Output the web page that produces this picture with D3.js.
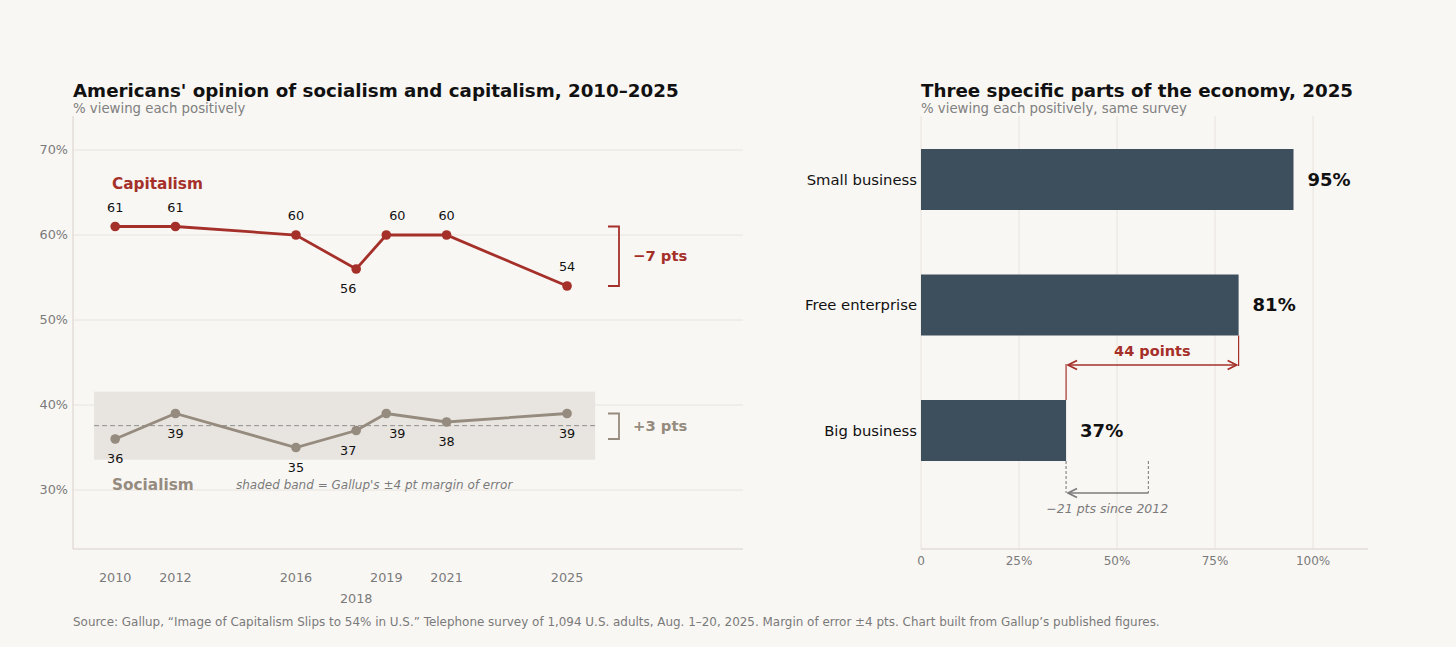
<!DOCTYPE html>
<html><head><meta charset="utf-8">
<script src="https://cdn.jsdelivr.net/npm/d3@7"></script>
<style>
html,body{margin:0;padding:0;background:#f9f7f4;}
svg{display:block;font-family:"DejaVu Sans",sans-serif;}
</style></head><body>
<svg id="c" width="1456" height="647"></svg>
<script>
// ---- data ----
const years = [2010, 2012, 2016, 2018, 2019, 2021, 2025];
const capitalism = [61, 61, 60, 56, 60, 60, 54];
const socialism = [36, 39, 35, 37, 39, 38, 39];
const yTicks = [30, 40, 50, 60, 70];
const parts = ["Small business", "Free enterprise", "Big business"];
const partValues = [95, 81, 37];
const bigBusiness2012 = 58;
const xTicksBar = [0, 25, 50, 75, 100];
const marginOfError = 4;

const RED = "#a5302a", GRAY = "#958b7e", BAR = "#3d4e5d", GRID = "#e8e3de", AXIS = "#d8d0c8", TICK = "#7a7a7a";
const svg = d3.select("#c");

// defs for arrows
const defs = svg.append("defs");
function marker(id, color, orient) {
  defs.append("marker").attr("id", id).attr("viewBox", "0 0 10 10").attr("refX", 9).attr("refY", 5)
    .attr("markerWidth", 7).attr("markerHeight", 7).attr("orient", orient)
    .append("path").attr("d", "M1,1 L9,5 L1,9").attr("fill", "none").attr("stroke", color).attr("stroke-width", 1.6);
}
marker("arR", RED, "auto");
marker("arRs", RED, "auto-start-reverse");
marker("arG", "#7d7d7d", "auto");

// ---- left chart ----
const L = {x0: 73, x1: 743, y0: 116, y1: 549};
const x = d3.scaleLinear().domain([2008.6, 2030.84]).range([L.x0, L.x1]);
const y = d3.scaleLinear().domain([23.06, 74]).range([L.y1, L.y0]);

const gl = svg.append("g");
gl.selectAll("line.grid").data(yTicks).join("line")
  .attr("x1", L.x0).attr("x2", L.x1).attr("y1", d => y(d)).attr("y2", d => y(d))
  .attr("stroke", GRID).attr("stroke-width", 1);
gl.selectAll("text.yt").data(yTicks).join("text")
  .attr("x", 68).attr("y", d => y(d)).attr("dy", "0.35em").attr("text-anchor", "end")
  .attr("font-size", 12.8).attr("fill", TICK).text(d => d + "%");
gl.append("line").attr("x1", L.x0).attr("x2", L.x0).attr("y1", L.y0).attr("y2", L.y1).attr("stroke", AXIS);
gl.append("line").attr("x1", L.x0).attr("x2", L.x1).attr("y1", L.y1).attr("y2", L.y1).attr("stroke", AXIS).attr("stroke-width", 1.2);
gl.selectAll("text.xt").data(years).join("text")
  .attr("x", d => x(d)).attr("y", d => d === 2018 ? 603 : 582).attr("text-anchor", "middle")
  .attr("font-size", 12.8).attr("fill", TICK).text(d => d);

// band
const meanSoc = d3.mean(socialism);
gl.append("rect").attr("x", x(2009.3)).attr("width", x(2025.93) - x(2009.3))
  .attr("y", y(meanSoc + marginOfError)).attr("height", y(meanSoc - marginOfError) - y(meanSoc + marginOfError))
  .attr("fill", "#e8e4df");
gl.append("line").attr("x1", x(2009.3)).attr("x2", x(2025.93)).attr("y1", y(meanSoc)).attr("y2", y(meanSoc))
  .attr("stroke", "#8f8f8f").attr("stroke-dasharray", "5,3").attr("stroke-width", 1);

const line = d3.line().x((d, i) => x(years[i])).y(d => y(d));
function series(vals, color, above) {
  gl.append("path").attr("d", line(vals)).attr("fill", "none").attr("stroke", color).attr("stroke-width", 2.8);
  gl.selectAll(null).data(vals).join("circle").attr("cx", (d, i) => x(years[i])).attr("cy", d => y(d))
    .attr("r", 4.8).attr("fill", color);
  gl.selectAll(null).data(vals).join("text")
    .attr("x", (d, i) => x(years[i]) + (years[i] === 2018 ? -8 : years[i] === 2019 ? 11 : 0))
    .attr("y", (d, i) => {
      const up = above && !(years[i] === 2018);
      return up ? y(d) - 15 : y(d) + 24;
    })
    .attr("text-anchor", "middle").attr("font-size", 12.8).attr("fill", "#111").text(d => d);
}
series(capitalism, RED, true);
series(socialism, GRAY, false);

gl.append("text").attr("x", 112).attr("y", 189).attr("font-size", 15.3).attr("font-weight", "bold").attr("fill", RED).text("Capitalism");
gl.append("text").attr("x", 112).attr("y", 490).attr("font-size", 15.3).attr("font-weight", "bold").attr("fill", GRAY).text("Socialism");
gl.append("text").attr("x", 236).attr("y", 489).attr("font-size", 12).attr("font-style", "italic").attr("fill", "#7a7a7a")
  .text("shaded band = Gallup's ±" + marginOfError + " pt margin of error");

function bracket(vals, color, label) {
  const a = y(vals[0]), b = y(vals[vals.length - 1]);
  const bx0 = 608, bx1 = 619;
  gl.append("path").attr("d", `M${bx0},${a} H${bx1} V${b} H${bx0}`).attr("fill", "none").attr("stroke", color).attr("stroke-width", 1.8);
  gl.append("text").attr("x", 633).attr("y", (a + b) / 2).attr("dy", "0.35em").attr("font-size", 14.8).attr("font-weight", "bold")
    .attr("fill", color).text(label);
}
const dc = capitalism[capitalism.length - 1] - capitalism[0];
const ds = socialism[socialism.length - 1] - socialism[0];
bracket(capitalism, RED, (dc < 0 ? "\u2212" : "+") + Math.abs(dc) + " pts");
bracket(socialism, GRAY, (ds < 0 ? "\u2212" : "+") + Math.abs(ds) + " pts");

svg.append("text").attr("x", 73).attr("y", 96.5).attr("font-size", 18.25).attr("font-weight", "bold").attr("fill", "#111")
  .text("Americans' opinion of socialism and capitalism, 2010\u20132025");
svg.append("text").attr("x", 73).attr("y", 112.5).attr("font-size", 13.3).attr("fill", "#808080").text("% viewing each positively");

// ---- right chart ----
const R = {x0: 921, x1: 1368, y0: 116, y1: 549};
const xb = d3.scaleLinear().domain([0, 114]).range([R.x0, R.x1]);
const yb = d3.scaleBand().domain(parts).range([116, 494]).paddingInner(0.514).paddingOuter(0.263);
const gr = svg.append("g");
gr.selectAll("line.g").data(xTicksBar).join("line").attr("x1", d => xb(d)).attr("x2", d => xb(d))
  .attr("y1", R.y0).attr("y2", R.y1).attr("stroke", GRID);
gr.append("line").attr("x1", R.x0).attr("x2", R.x1).attr("y1", R.y1).attr("y2", R.y1).attr("stroke", AXIS).attr("stroke-width", 1.2);
gr.selectAll("text.xt").data(xTicksBar).join("text").attr("x", d => xb(d)).attr("y", 565).attr("text-anchor", "middle")
  .attr("font-size", 12).attr("fill", TICK).text(d => d === 0 ? "0" : d + "%");
gr.selectAll("rect").data(parts).join("rect").attr("x", xb(0)).attr("y", d => yb(d))
  .attr("width", (d, i) => xb(partValues[i]) - xb(0)).attr("height", yb.bandwidth()).attr("fill", BAR);
gr.selectAll("text.cat").data(parts).join("text").attr("x", 917).attr("y", d => yb(d) + yb.bandwidth() / 2).attr("dy", "0.35em")
  .attr("text-anchor", "end").attr("font-size", 14.8).attr("fill", "#111").text(d => d);
gr.selectAll("text.val").data(parts).join("text").attr("x", (d, i) => xb(partValues[i]) + 14)
  .attr("y", d => yb(d) + yb.bandwidth() / 2).attr("dy", "0.35em")
  .attr("font-size", 18).attr("font-weight", "bold").attr("fill", "#111").text((d, i) => partValues[i] + "%");

const fe = partValues[1], bb = partValues[2];
const ay = 365;
gr.append("line").attr("x1", xb(fe)).attr("x2", xb(fe)).attr("y1", yb(parts[1]) + yb.bandwidth()).attr("y2", ay + 1).attr("stroke", RED).attr("stroke-width", 1.2);
gr.append("line").attr("x1", xb(bb)).attr("x2", xb(bb)).attr("y1", ay - 1).attr("y2", yb(parts[2])).attr("stroke", RED).attr("stroke-width", 1.2);
gr.append("line").attr("x1", xb(bb) + 2).attr("x2", xb(fe) - 2).attr("y1", ay).attr("y2", ay).attr("stroke", RED).attr("stroke-width", 1.6)
  .attr("marker-start", "url(#arRs)").attr("marker-end", "url(#arR)");
gr.append("text").attr("x", (xb(fe) + xb(bb)) / 2).attr("y", 356).attr("text-anchor", "middle").attr("font-size", 14.5)
  .attr("font-weight", "bold").attr("fill", RED).text((fe - bb) + " points");

const by = 493;
const bbBottom = yb(parts[2]) + yb.bandwidth();
[bb, bigBusiness2012].forEach(v => gr.append("line").attr("x1", xb(v)).attr("x2", xb(v)).attr("y1", bbBottom).attr("y2", by)
  .attr("stroke", "#8a8a8a").attr("stroke-dasharray", "3,2").attr("stroke-width", 1.2));
gr.append("line").attr("x1", xb(bigBusiness2012)).attr("x2", xb(bb) + 2).attr("y1", by).attr("y2", by)
  .attr("stroke", "#7d7d7d").attr("stroke-width", 1.6).attr("marker-end", "url(#arG)");
gr.append("text").attr("x", (xb(bb) + xb(bigBusiness2012)) / 2).attr("y", 513).attr("text-anchor", "middle")
  .attr("font-size", 12.5).attr("font-style", "italic").attr("fill", "#7a7a7a")
  .text("\u2212" + (bigBusiness2012 - bb) + " pts since 2012");

svg.append("text").attr("x", 921).attr("y", 96.5).attr("font-size", 18.25).attr("font-weight", "bold").attr("fill", "#111")
  .text("Three specific parts of the economy, 2025");
svg.append("text").attr("x", 921).attr("y", 112.5).attr("font-size", 13.3).attr("fill", "#808080").text("% viewing each positively, same survey");

svg.append("text").attr("x", 73).attr("y", 626).attr("font-size", 11.95).attr("fill", "#7a7a7a")
  .text("Source: Gallup, \u201cImage of Capitalism Slips to 54% in U.S.\u201d Telephone survey of 1,094 U.S. adults, Aug. 1\u201320, 2025. Margin of error \u00b14 pts. Chart built from Gallup\u2019s published figures.");
</script></body></html>
